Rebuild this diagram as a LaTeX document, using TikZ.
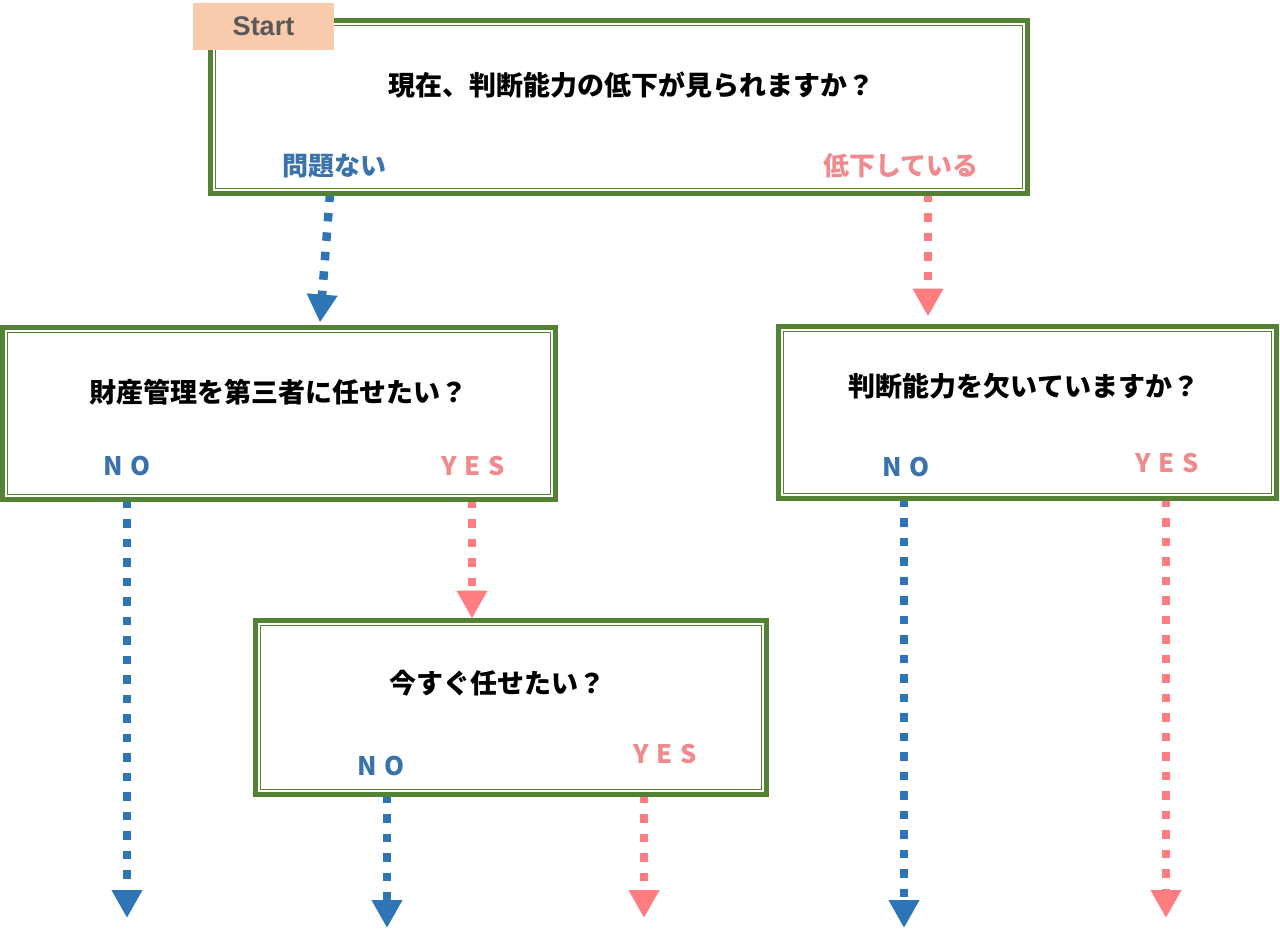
\documentclass[tikz,border=0pt]{standalone}
\usepackage{fontspec}
\newfontfamily\jp{Noto Sans CJK JP}
\newfontfamily\lat{Liberation Sans}
\usetikzlibrary{arrows.meta,calc}
\definecolor{boxgreen}{HTML}{548235}
\definecolor{arrblue}{HTML}{2E75B6}
\definecolor{arrpink}{HTML}{FF7C80}
\definecolor{txtblue}{HTML}{3A72AC}
\definecolor{txtpink}{HTML}{F08A8C}
\definecolor{startfill}{HTML}{F8CBAD}
\definecolor{startgray}{HTML}{595959}
\tikzset{
  qbox/.style={draw=boxgreen, line width=5pt, fill=white, inner sep=0pt, outer sep=0pt,
    minimum width=#1},
  innerline/.style={draw=boxgreen, line width=1.5pt},
  qtext/.style={font=\jp\bfseries\fontsize{27}{30}\selectfont, text=black, inner sep=0pt},
  btext/.style={font=\jp\bfseries\fontsize{26}{30}\selectfont, text=txtblue, inner sep=0pt},
  ptext/.style={font=\jp\bfseries\fontsize{26}{30}\selectfont, text=txtpink, inner sep=0pt},
  ansb/.style={font=\jp\bfseries\fontsize{25.5}{28}\selectfont, text=txtblue, inner sep=0pt},
  ansp/.style={font=\jp\bfseries\fontsize{25.5}{28}\selectfont, text=txtpink, inner sep=0pt},
  barrow/.style={draw=arrblue, line width=8.5pt, dash pattern=on 8.5pt off 11pt,
    -{Triangle[width=29pt 0 0,length=28pt 0 0]}, arrblue},
  parrow/.style={draw=arrpink, line width=8.5pt, dash pattern=on 8.5pt off 11pt,
    -{Triangle[width=29pt 0 0,length=28pt 0 0]}, arrpink},
}
\newcommand{\spc}{\kern8pt}
\begin{document}
\begin{tikzpicture}[x=1pt,y=-1pt]
\useasboundingbox (0,0) rectangle (1280,932);
\fill[white] (0,0) rectangle (1280,932);

% box nodes (outlines redrawn later on top of arrows)
\path
  (619,107) node[qbox=817pt, minimum height=173pt] (b1) {}
  (279,413.5) node[qbox=553pt, minimum height=172pt] (b2) {}
  (1027.5,412.5) node[qbox=498pt, minimum height=172pt] (b3) {}
  (511,707.5) node[qbox=511pt, minimum height=174pt] (b4) {};

% free arrow ends
\coordinate (e1) at (127,918);
\coordinate (e2) at (387,928);
\coordinate (e3) at (644,918);
\coordinate (e4) at (904,928);
\coordinate (e5) at (1166,918);

% arrows
\draw[barrow] ([xshift=-289pt]b1.south) -- ([xshift=41pt,yshift=5pt]b2.north);
\draw[parrow] ([xshift=309pt]b1.south) -- ([xshift=-99.5pt,yshift=10pt]b3.north);
\draw[barrow] ([xshift=-152pt]b2.south) -- (e1);
\draw[parrow] ([xshift=193pt]b2.south) -- ([xshift=-39pt,yshift=2pt]b4.north);
\draw[barrow] ([xshift=-124pt]b4.south) -- (e2);
\draw[parrow] ([xshift=133pt]b4.south) -- (e3);
\draw[barrow] ([xshift=-123.5pt]b3.south) -- (e4);
\draw[parrow] ([xshift=138.5pt]b3.south) -- (e5);

% box outlines on top
\foreach \b in {b1,b2,b3,b4}{
  \draw[qbox=0pt, fill=none] (\b.north west) rectangle (\b.south east);
  \draw[innerline] ([shift={(5pt,-5pt)}]\b.north west) rectangle ([shift={(-5pt,5pt)}]\b.south east);
}

% start tag
\node[fill=startfill, minimum width=141pt, minimum height=47pt, inner sep=0pt,
  font=\lat\bfseries\fontsize{27}{30}\selectfont, text=startgray] (st) at (263.5,26.5) {Start};

% texts
\node[qtext] (t1) at (631,85) {現在、判断能力の低下が見られますか？};
\node[btext] (t1n) at (334,166) {問題ない};
\node[ptext] (t1y) at (901,166) {低下している};

\node[qtext] (t2) at (278,392) {財産管理を第三者に任せたい？};
\node[ansb] (t2n) at (127,466) {N\spc O};
\node[ansp] (t2y) at (473,466) {Y\spc E\spc S};

\node[qtext] (t3) at (1024,386) {判断能力を欠いていますか？};
\node[ansb] (t3n) at (906,467) {N\spc O};
\node[ansp] (t3y) at (1167,463) {Y\spc E\spc S};

\node[qtext] (t4) at (497,683) {今すぐ任せたい？};
\node[ansb] (t4n) at (381,766) {N\spc O};
\node[ansp] (t4y) at (665,754) {Y\spc E\spc S};
\end{tikzpicture}
\end{document}
